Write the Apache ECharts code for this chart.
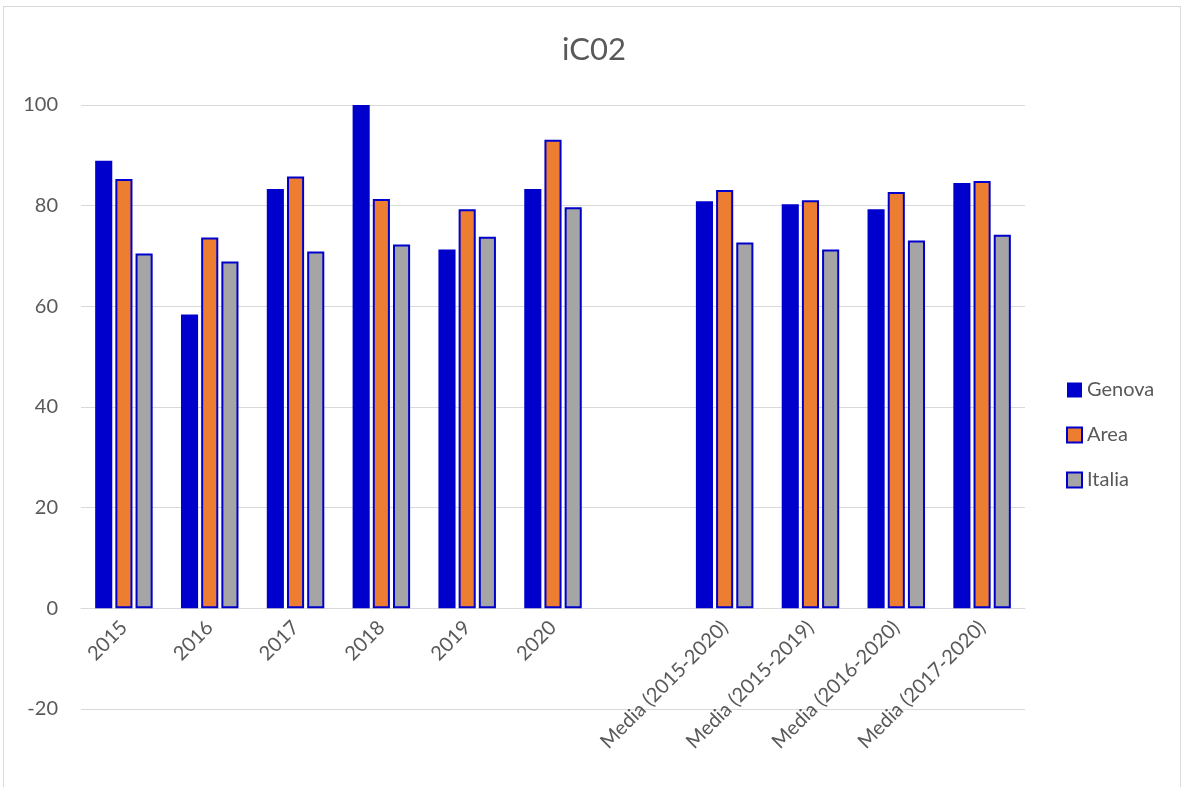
<!DOCTYPE html>
<html><head><meta charset="utf-8">
<script src="https://cdn.jsdelivr.net/npm/echarts@6/dist/echarts.min.js"></script>
<style>
html,body{margin:0;padding:0;background:#fff;overflow:hidden}
#frame{position:absolute;left:3px;top:6px;width:1178px;height:800px;border:1px solid #d9d9d9;box-sizing:border-box}
#c{position:absolute;left:0;top:0;width:1188px;height:787px}
</style></head>
<body>
<div id="frame"></div>
<div id="c"></div>
<script>
const categories = ['2015','2016','2017','2018','2019','2020','','Media (2015-2020)','Media (2015-2019)','Media (2016-2020)','Media (2017-2020)'];
const genova = [88.9, 58.4, 83.3, 100.0, 71.3, 83.3, null, 80.9, 80.3, 79.3, 84.5];
const area   = [85.3, 73.7, 85.8, 81.3, 79.3, 93.1, null, 83.1, 81.1, 82.7, 84.9];
const italia = [70.5, 68.9, 70.9, 72.3, 73.8, 79.7, null, 72.7, 71.3, 73.1, 74.2];
const yTicks = {min: -20, max: 100, interval: 20};

const font = 'Lato, "Open Sans", sans-serif';
const gridTop = 105, gridBottom = 78, H = 787;
const plotH = H - gridTop - gridBottom;
const zeroOffset = -plotH * (0 - yTicks.min) / (yTicks.max - yTicks.min);

const chart = echarts.init(document.getElementById('c'), null, {renderer: 'canvas'});
chart.setOption({
  animation: false,
  title: {text: 'iC02', left: 'center', top: 29, textStyle: {fontFamily: font, fontSize: 31, fontWeight: 'normal', color: '#595959'}},
  grid: {left: 81, right: 163, top: gridTop, bottom: gridBottom, containLabel: false, outerBoundsMode: 'none'},
  legend: {
    orient: 'vertical', left: 1061, top: 375, itemGap: 25, itemWidth: 15, itemHeight: 15,
    icon: 'rect',
    textStyle: {fontFamily: font, fontSize: 20, color: '#595959', padding: [0,0,0,0]},
    data: ['Genova','Area','Italia']
  },
  xAxis: {
    type: 'category', data: categories, position: 'bottom', offset: zeroOffset,
    axisLine: {onZero: false, lineStyle: {color: '#d9d9d9', width: 1}},
    axisTick: {show: false},
    axisLabel: {rotate: 45, interval: 0, fontFamily: font, fontSize: 20, color: '#595959', margin: 16}
  },
  yAxis: {
    type: 'value', min: yTicks.min, max: yTicks.max, interval: yTicks.interval,
    axisLine: {show: false}, axisTick: {show: false},
    axisLabel: {fontFamily: font, fontSize: 20, color: '#595959', margin: 23},
    splitLine: {lineStyle: {color: '#d9d9d9', width: 1}}
  },
  series: [
    {name: 'Genova', type: 'bar', data: genova, barGap: '18%', barCategoryGap: '33%',
     itemStyle: {color: '#0000CC', borderColor: '#0000CC', borderWidth: 0}},
    {name: 'Area', type: 'bar', data: area,
     itemStyle: {color: '#ED7D31', borderColor: '#0000CC', borderWidth: 2}},
    {name: 'Italia', type: 'bar', data: italia,
     itemStyle: {color: '#A5A5A5', borderColor: '#0000CC', borderWidth: 2}}
  ]
});
</script>
</body></html>
